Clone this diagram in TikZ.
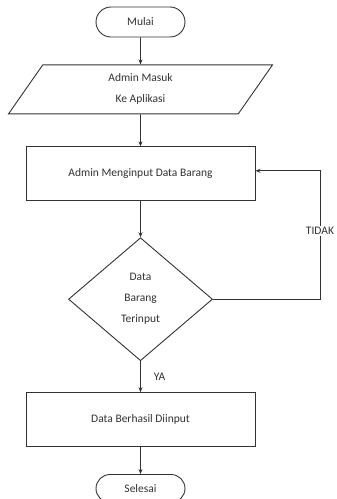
\documentclass[tikz,border=0pt]{standalone}
\usepackage{fontspec}
\setmainfont{Carlito}
\usetikzlibrary{positioning,shapes.geometric,shapes.misc,arrows.meta}
\definecolor{garis}{RGB}{50,50,50}
\tikzset{
  base/.style={
    draw=garis,
    line width=0.9pt,
    text=garis,
    font=\fontsize{11.5}{21}\selectfont,
    align=center,
    inner sep=0pt
  },
  terminal/.style={base, rounded rectangle, minimum width=89pt, minimum height=30pt},
  io/.style={base, trapezium, trapezium left angle=42, trapezium right angle=138,
    trapezium stretches body, minimum width=264pt, minimum height=49pt},
  proses/.style={base, rectangle, minimum width=229pt, minimum height=54pt},
  keputusan/.style={base, diamond, minimum width=144pt, minimum height=123pt},
  panah/.style={draw=garis, line width=0.9pt, -{Stealth[length=5pt,width=4pt]}},
  label/.style={text=garis, font=\fontsize{11.5}{12}\selectfont, inner sep=1pt}
}

\begin{document}
\begin{tikzpicture}[x=1pt,y=1pt]
  \useasboundingbox (0,0) rectangle (337,-499);

  % alur utama
  \node[terminal] (mulai) at (140.5,-22) {Mulai};
  \node[io, below=27pt of mulai] (masuk) {Admin Masuk\\Ke Aplikasi};
  \node[proses, below=32pt of masuk] (input) {Admin Menginput Data Barang};
  \node[keputusan, below=36pt of input] (cek) {Data\\Barang\\Terinput};
  \node[proses, below=31pt of cek] (berhasil) {Data Berhasil Diinput};
  \node[terminal, below=27pt of berhasil, minimum height=28pt] (selesai) {Selesai};

  \draw[panah] (mulai) -- (masuk);
  \draw[panah] (masuk) -- (input);
  \draw[panah] (input) -- (cek);
  \draw[panah] (cek) -- node[label, midway, right=12pt] {YA} (berhasil);
  \draw[panah] (berhasil) -- (selesai);

  % kembali jika belum terinput
  \coordinate[right=107pt of cek.east] (sudut);
  \draw[panah] (cek.east) -- (sudut) |- node[label, pos=0.265, fill=white] {TIDAK} ([yshift=3pt]input.east);
\end{tikzpicture}
\end{document}
